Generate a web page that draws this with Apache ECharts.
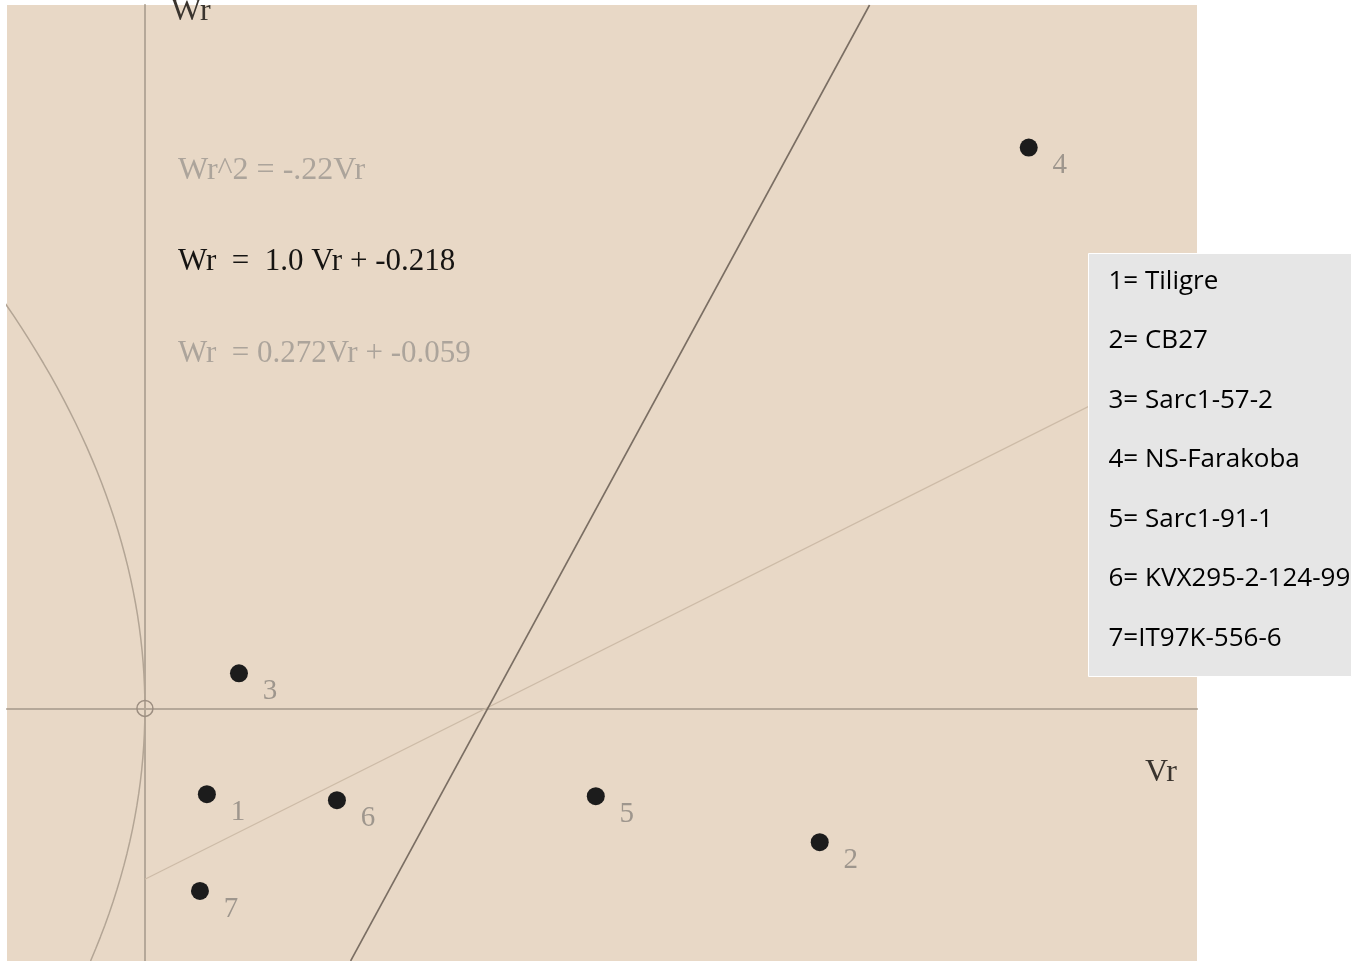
<!DOCTYPE html>
<html>
<head>
<meta charset="utf-8">
<script src="https://cdn.jsdelivr.net/npm/echarts@6/dist/echarts.min.js"></script>
<style>
  html, body { margin: 0; padding: 0; background: #ffffff; }
  #chart { width: 1358px; height: 961px; }
</style>
</head>
<body>
<div id="chart"></div>
<script>
// genotype points (Vr, Wr)
const pointNames = ['1', '2', '3', '4', '5', '6', '7'];
const vrValues = [0.0394, 0.4291, 0.0598, 0.562, 0.2867, 0.1221, 0.035];
const wrValues = [-0.0296, -0.0462, 0.0121, 0.1936, -0.0303, -0.0317, -0.0630];
const legendLines = ['1= Tiligre', '2= CB27', '3= Sarc1-57-2', '4= NS-Farakoba', '5= Sarc1-91-1', '6= KVX295-2-124-99', '7=IT97K-556-6'];

// slope, intercept
const unitLine = [1.0, -0.218];
const regLine = [0.272, -0.059];
// Wr^2 = k * Vr
const parabolaK = -0.22;

const vrRange = [-0.0877, 0.669];
const wrRange = [-0.0872, 0.2428];

const serif = '"Liberation Serif", "DejaVu Serif", serif';

// steep line: endpoints where it meets bottom and top of the plot
const unitData = [
  [(wrRange[0] - unitLine[1]) / unitLine[0], wrRange[0]],
  [(wrRange[1] - unitLine[1]) / unitLine[0], wrRange[1]]
];
// regression line starts at the Wr axis
const regData = [
  [0, regLine[1]],
  [vrRange[1], regLine[0] * vrRange[1] + regLine[1]]
];
const parabolaData = [];
for (let i = 0; i <= 80; i++) {
  const w = wrRange[0] + (wrRange[1] - wrRange[0]) * i / 80;
  parabolaData.push([w * w / parabolaK, w]);
}

const chart = echarts.init(document.getElementById('chart'));

const legendGraphic = legendLines.map((t, i) => ({
  type: 'text',
  x: 20,
  y: 28 + i * 59.5,
  z: 101,
  style: { text: t, fill: '#000', font: '26px "Open Sans", "Noto Sans", sans-serif', verticalAlign: 'middle' }
}));

const option = {
  backgroundColor: '#ffffff',
  animation: false,
  grid: {
    left: 7, right: 161, top: 5, bottom: 0,
    show: true, backgroundColor: '#e8d8c6', borderWidth: 0
  },
  xAxis: {
    type: 'value', min: vrRange[0], max: vrRange[1],
    axisLine: { show: true, onZero: true, lineStyle: { color: '#b5a899', width: 2 } },
    axisTick: { show: false }, axisLabel: { show: false }, splitLine: { show: false }
  },
  yAxis: {
    type: 'value', min: wrRange[0], max: wrRange[1],
    axisLine: { show: true, onZero: true, lineStyle: { color: '#b5a899', width: 2 } },
    axisTick: { show: false }, axisLabel: { show: false }, splitLine: { show: false }
  },
  series: [
    {
      type: 'line', data: parabolaData, showSymbol: false, clip: true,
      lineStyle: { color: '#b3a595', width: 1.5 }, z: 2
    },
    {
      type: 'line', data: regData, showSymbol: false, clip: true,
      lineStyle: { color: '#cdbba7', width: 1.2 }, z: 2
    },
    {
      type: 'line', data: unitData, showSymbol: false, clip: true,
      lineStyle: { color: '#7a6e63', width: 1.6 }, z: 3
    },
    {
      type: 'scatter', data: [[0, 0]], symbol: 'circle', symbolSize: 16,
      itemStyle: { color: 'rgba(0,0,0,0)', borderColor: '#9c8e81', borderWidth: 1.5, opacity: 1 }, z: 4
    },
    {
      type: 'scatter', symbolSize: 18, z: 5,
      data: pointNames.map((n, i) => ({ name: n, value: [vrValues[i], wrValues[i]] })),
      itemStyle: { color: '#1c1c1c', opacity: 1 },
      label: {
        show: true, position: 'inside', offset: [31, 18],
        formatter: p => p.name,
        color: '#9e968d', fontSize: 29, fontFamily: serif
      }
    }
  ],
  graphic: [
    { type: 'text', left: 171, top: -4, style: { text: 'Wr', fill: '#3a342e', font: '32px ' + serif } },
    { type: 'text', left: 178, top: 155, style: { text: 'Wr^2 = -.22Vr', fill: '#aca49b', font: '32px ' + serif } },
    { type: 'text', left: 178, top: 246, style: { text: 'Wr  =  1.0 Vr + -0.218', fill: '#161412', font: '31px ' + serif } },
    { type: 'text', left: 178, top: 338, style: { text: 'Wr  = 0.272Vr + -0.059', fill: '#aca49b', font: '31px ' + serif } },
    { type: 'text', left: 1145, top: 757, style: { text: 'Vr', fill: '#3a342e', font: '32px ' + serif } },
    {
      type: 'group', left: 1088, top: 253, z: 100,
      children: [
        { type: 'rect', z: 100, shape: { x: 0, y: 0, width: 263, height: 423 },
          style: { fill: '#e6e6e6', stroke: '#ffffff', lineWidth: 1 } }
      ].concat(legendGraphic)
    }
  ]
};

chart.setOption(option);
</script>
</body>
</html>
